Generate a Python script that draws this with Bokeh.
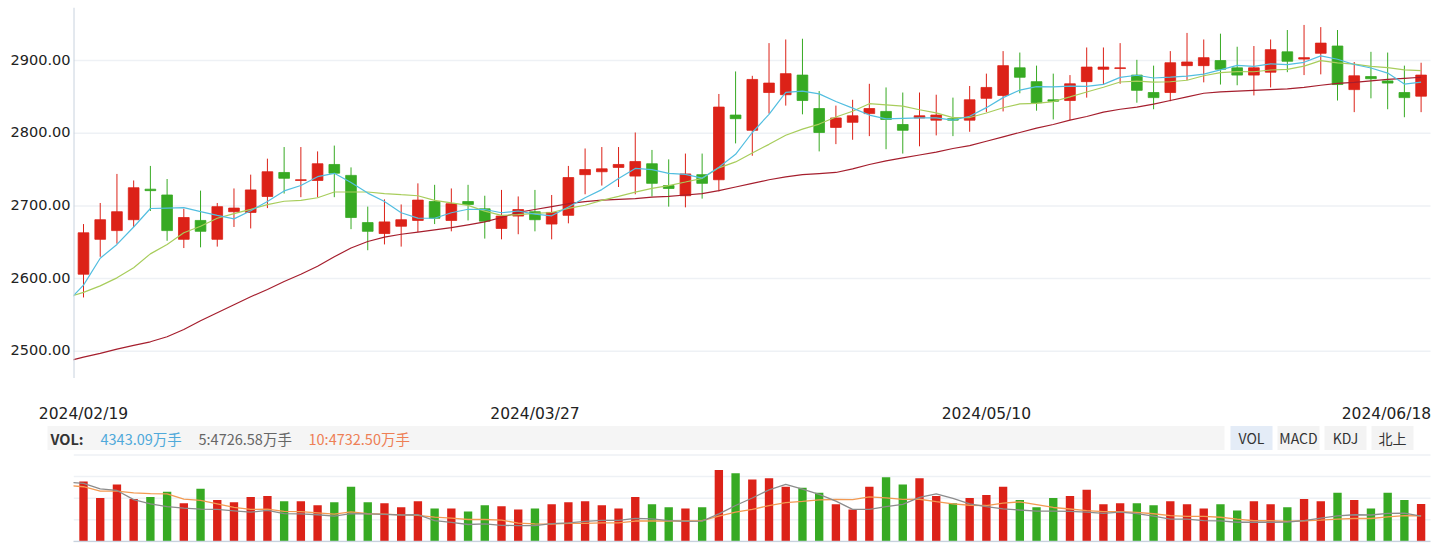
import numpy as np
from bokeh.plotting import figure
from bokeh.layouts import column
from bokeh.models import Range1d
from bokeh.core.properties import value
from bokeh.embed import file_html
from bokeh.resources import INLINE

# ---------------- data ----------------
dates = [
    "2024/02/19", "2024/02/20", "2024/02/21", "2024/02/22", "2024/02/23", "2024/02/26", "2024/02/27", "2024/02/28", "2024/02/29",
    "2024/03/01", "2024/03/04", "2024/03/05", "2024/03/06", "2024/03/07", "2024/03/08", "2024/03/11", "2024/03/12", "2024/03/13",
    "2024/03/14", "2024/03/15", "2024/03/18", "2024/03/19", "2024/03/20", "2024/03/21", "2024/03/22", "2024/03/25", "2024/03/26",
    "2024/03/27", "2024/03/28", "2024/03/29",
    "2024/04/01", "2024/04/02", "2024/04/03", "2024/04/08", "2024/04/09", "2024/04/10", "2024/04/11", "2024/04/12", "2024/04/15",
    "2024/04/16", "2024/04/17", "2024/04/18", "2024/04/19", "2024/04/22", "2024/04/23", "2024/04/24", "2024/04/25", "2024/04/26",
    "2024/04/29", "2024/04/30",
    "2024/05/06", "2024/05/07", "2024/05/08", "2024/05/09", "2024/05/10", "2024/05/13", "2024/05/14", "2024/05/15", "2024/05/16",
    "2024/05/17", "2024/05/20", "2024/05/21", "2024/05/22", "2024/05/23", "2024/05/24", "2024/05/27", "2024/05/28", "2024/05/29",
    "2024/05/30", "2024/05/31",
    "2024/06/03", "2024/06/04", "2024/06/05", "2024/06/06", "2024/06/07", "2024/06/11", "2024/06/12", "2024/06/13", "2024/06/14",
    "2024/06/17", "2024/06/18",
]
opens = [2606, 2654, 2666, 2681, 2723, 2715, 2654, 2680, 2654, 2692,
         2691, 2713, 2746, 2735, 2735, 2757, 2742, 2677, 2662, 2672,
         2680, 2706, 2680, 2706, 2696, 2669, 2686, 2692, 2675, 2687,
         2743, 2747, 2753, 2741, 2758, 2728, 2714, 2743, 2736, 2825,
         2804, 2856, 2853, 2880, 2834, 2808, 2815, 2827, 2830, 2812,
         2821, 2818, 2820, 2818, 2848, 2852, 2890, 2871, 2846, 2845,
         2871, 2888, 2889, 2880, 2856, 2856, 2893, 2893, 2900, 2890,
         2880, 2884, 2912, 2902, 2910, 2920, 2860, 2878, 2872, 2856,
         2851]
highs = [2675, 2704, 2744, 2735, 2755, 2737, 2696, 2721, 2704, 2724,
         2743, 2765, 2781, 2781, 2775, 2783, 2753, 2699, 2709, 2702,
         2731, 2729, 2724, 2729, 2714, 2722, 2713, 2722, 2715, 2755,
         2779, 2781, 2781, 2801, 2777, 2764, 2772, 2772, 2854, 2885,
         2879, 2924, 2929, 2930, 2858, 2838, 2846, 2868, 2863, 2856,
         2856, 2853, 2849, 2865, 2882, 2913, 2911, 2893, 2882, 2880,
         2918, 2918, 2924, 2901, 2893, 2913, 2938, 2929, 2937, 2919,
         2920, 2929, 2942, 2949, 2946, 2942, 2898, 2912, 2911, 2893,
         2897]
lows = [2574, 2630, 2648, 2671, 2693, 2652, 2642, 2643, 2644, 2671,
        2669, 2697, 2717, 2712, 2712, 2712, 2668, 2639, 2647, 2644,
        2664, 2675, 2665, 2680, 2655, 2654, 2661, 2665, 2654, 2676,
        2716, 2728, 2726, 2716, 2713, 2699, 2698, 2710, 2720, 2786,
        2769, 2827, 2838, 2826, 2775, 2785, 2791, 2796, 2778, 2772,
        2782, 2797, 2796, 2802, 2829, 2830, 2855, 2831, 2819, 2818,
        2849, 2867, 2868, 2842, 2833, 2844, 2873, 2870, 2867, 2866,
        2852, 2863, 2884, 2880, 2881, 2845, 2829, 2848, 2833, 2822,
        2829]
closes = [2663, 2681, 2692, 2725, 2721, 2666, 2684, 2665, 2699, 2697,
          2722, 2747, 2738, 2736, 2758, 2745, 2684, 2665, 2678, 2681,
          2708, 2683, 2703, 2702, 2679, 2686, 2695, 2681, 2691, 2739,
          2750, 2751, 2757, 2761, 2731, 2724, 2744, 2731, 2836, 2820,
          2874, 2869, 2882, 2845, 2801, 2821, 2824, 2834, 2819, 2804,
          2824, 2825, 2818, 2846, 2863, 2893, 2877, 2842, 2844, 2868,
          2891, 2891, 2890, 2859, 2849, 2897, 2898, 2904, 2888, 2880,
          2890, 2915, 2899, 2904, 2924, 2867, 2879, 2875, 2869, 2849,
          2880]
# volume in 万手
volumes = [6932, 5020, 6574, 4900, 5139, 5737, 4422, 6096, 4781, 4542,
           5139, 5259, 4661, 4661, 4183, 4542, 6335, 4542, 4422, 3944,
           4661, 3825, 3825, 3466, 4183, 4064, 3705, 3825, 4303, 4542,
           4661, 4183, 3825, 5139, 4303, 3944, 3825, 3944, 8247, 7888,
           7171, 7291, 6335, 6215, 5617, 4303, 3705, 6335, 7410, 6574,
           7291, 5259, 4422, 5020, 5378, 6335, 4781, 3944, 5020, 5259,
           5976, 4303, 4422, 4422, 4183, 4661, 4303, 3825, 4303, 3586,
           4661, 4303, 3944, 4900, 4661, 5617, 4781, 3825, 5617, 4781,
           4343]

# moving-average series: first value belongs to the previous trading day
prev_date = "2024/02/08"
ma5 = [2567, 2591, 2628, 2647, 2671, 2696.4, 2697.0, 2697.6, 2692.2, 2687.0, 2682.2,
       2693.4, 2706.0, 2720.6, 2728.0, 2740.2, 2744.8, 2732.2, 2717.6, 2706.0, 2690.6,
       2683.2, 2683.0, 2690.6, 2695.4, 2695.0, 2690.6, 2693.0, 2688.6, 2686.4, 2698.4,
       2711.2, 2722.4, 2737.6, 2751.6, 2750.0, 2744.8, 2743.4, 2738.2, 2753.2, 2771.0,
       2801.0, 2826.0, 2856.2, 2858.0, 2854.2, 2843.6, 2834.6, 2825.0, 2819.8, 2820.4,
       2821.0, 2821.2, 2818.0, 2823.4, 2835.2, 2849.0, 2859.4, 2864.2, 2863.8, 2864.8,
       2864.4, 2867.2, 2876.8, 2879.8, 2876.0, 2877.2, 2878.6, 2881.4, 2887.2, 2893.4,
       2892.0, 2895.4, 2894.4, 2897.6, 2906.4, 2901.8, 2894.6, 2889.8, 2882.8, 2867.6,
       2870.2]
ma10 = [2574, 2581, 2590, 2601, 2615, 2634, 2647, 2663, 2672, 2683, 2689.3,
        2695.2, 2701.8, 2706.4, 2707.5, 2711.2, 2719.1, 2719.1, 2719.1, 2717.0, 2715.4,
        2714.0, 2707.6, 2704.1, 2700.7, 2692.8, 2686.9, 2688.0, 2689.6, 2690.9, 2696.7,
        2700.9, 2707.7, 2713.1, 2719.0, 2724.2, 2728.0, 2732.9, 2737.9, 2752.4, 2760.5,
        2772.9, 2784.7, 2797.2, 2805.6, 2812.6, 2822.3, 2830.3, 2840.6, 2838.9, 2837.3,
        2832.3, 2827.9, 2821.5, 2821.6, 2827.8, 2835.0, 2840.3, 2841.1, 2843.6, 2850.0,
        2856.7, 2863.3, 2870.5, 2871.8, 2870.4, 2870.8, 2872.9, 2879.1, 2883.5, 2884.7,
        2884.6, 2887.0, 2887.9, 2892.4, 2899.9, 2896.9, 2895.0, 2892.1, 2890.2, 2887.1,
        2886.1]
ma60 = [2486, 2492, 2497, 2503, 2508, 2513, 2520, 2530, 2542, 2553, 2564,
        2575, 2585, 2596, 2606, 2617, 2630, 2642, 2651, 2657, 2661,
        2664, 2667, 2670, 2674, 2678, 2684, 2691, 2695, 2699, 2703,
        2706, 2708, 2709, 2710, 2712, 2713, 2715, 2717, 2721, 2726,
        2731, 2736, 2740, 2743, 2744.5, 2746, 2751, 2757, 2762, 2766,
        2770, 2774, 2779, 2783, 2789, 2795, 2801, 2807, 2812, 2818,
        2823, 2829, 2833, 2836, 2840, 2845, 2850, 2855, 2857, 2858,
        2859, 2860, 2861, 2863, 2866, 2868.5, 2870, 2872, 2874, 2875.5,
        2877]
vol_ma5 = [7575, 7470, 7000, 6860, 6070, 5713, 5474, 5354, 5259, 5235, 5116,
           4996, 5163, 4876, 4852, 4781, 4661, 4876, 4853, 4805, 4757,
           4781, 4279, 4135, 3944, 3992, 3873, 3849, 3849, 4016, 4088,
           4207, 4303, 4303, 4470, 4422, 4279, 4207, 4231, 4853, 5570,
           6215, 6908, 7386, 6980, 6526, 5952, 5235, 5235, 5474, 5665,
           6263, 6574, 6191, 5713, 5474, 5283, 5187, 5092, 5092, 5068,
           4996, 4900, 4996, 4876, 4661, 4398, 4398, 4279, 4255, 4136,
           4136, 4136, 4159, 4279, 4494, 4685, 4781, 4757, 4900, 4924,
           4669]
vol_ma10 = [7290, 7178, 6797, 6797, 6651, 6592, 6563, 6123, 6006, 5713, 5414,
            5235, 5259, 5068, 5044, 4948, 4829, 5020, 4865, 4829, 4769,
            4721, 4578, 4494, 4375, 4375, 4327, 4064, 3992, 3980, 4040,
            4040, 4076, 4076, 4243, 4255, 4243, 4255, 4267, 4661, 4996,
            5247, 5558, 5809, 5916, 6048, 6084, 6072, 6311, 6227, 6096,
            6108, 5904, 5713, 5594, 5570, 5773, 5881, 5641, 5402, 5271,
            5139, 5044, 5044, 4984, 4865, 4697, 4649, 4637, 4566, 4398,
            4267, 4267, 4219, 4267, 4315, 4410, 4458, 4458, 4590, 4709,
            4677]

price_ticks = [2500, 2600, 2700, 2800, 2900]
date_ticks = ["2024/02/19", "2024/03/27", "2024/05/10", "2024/06/18"]
vol_grid = [2500, 5000, 7500, 10000]
vol_legend = ["VOL:", "4343.09万手", "5:4726.58万手", "10:4732.50万手"]
buttons = ["VOL", "MACD", "KDJ", "北上"]

# ---------------- style / layout ----------------
W = 1438
STEP = 16.72          # px per trading day
X0 = 83               # px of first candle
PLOT_L, PLOT_R = 73, 1430   # plotting area (px)
RED, GREEN = "#DC2218", "#37AA23"
C_MA5, C_MA10, C_MA60 = "#52BEE0", "#A8CD5C", "#A51E2D"
C_VMA5, C_VMA10 = "#8C8C8C", "#F39A52"
GRID = "#EEF1F5"
AXIS = "#C8D2DE"
TXT = "#222222"

n = len(dates)
idx = np.arange(n)
ma_x = np.arange(-1, n)
o = np.array(opens, float); c = np.array(closes, float)
colors = [RED if cc >= oo else GREEN for oo, cc in zip(o, c)]
body_top = np.maximum(o, c)
body_bot = np.minimum(o, c)

# every figure uses the full window width as its frame
xs = -X0 / STEP
xe = xs + W / STEP


def base_fig(height, y_range, top=0, bottom=0):
    f = figure(width=W, height=height, x_range=Range1d(xs, xe), y_range=y_range,
               output_backend="svg", toolbar_location=None,
               x_axis_location=None, y_axis_location=None,
               min_border_left=0, min_border_right=0,
               min_border_top=top, min_border_bottom=bottom)
    f.extra_x_ranges = {"px": Range1d(0, W)}
    f.outline_line_color = None
    f.xgrid.visible = False
    f.ygrid.visible = False
    f.background_fill_color = "white"
    f.border_fill_color = "white"
    return f


# ---------------- main price chart ----------------
P_LO, P_HI = 2462.5, 2973
p1 = base_fig(378, Range1d(P_LO, P_HI), top=7)
p1.segment(x0=[PLOT_L] * len(price_ticks), x1=[PLOT_R] * len(price_ticks),
           y0=price_ticks, y1=price_ticks, x_range_name="px",
           line_color=GRID, line_width=1.5)
p1.segment(x0=idx, y0=lows, x1=idx, y1=highs, line_color=colors, line_width=1)
p1.vbar(x=idx, width=0.64, top=body_top, bottom=body_bot, fill_color=colors,
        line_color=colors, line_width=0.8)
p1.line(ma_x, ma60, line_color=C_MA60, line_width=1.2)
p1.line(ma_x, ma10, line_color=C_MA10, line_width=1.2)
p1.line(ma_x, ma5, line_color=C_MA5, line_width=1.2)
# left margin (axis area)
p1.quad(left=[0], right=[PLOT_L], bottom=[P_LO], top=[P_HI], x_range_name="px",
        fill_color="white", line_color=None)
p1.segment(x0=[PLOT_L + 0.5], x1=[PLOT_L + 0.5], y0=[P_LO], y1=[P_HI], x_range_name="px",
           line_color=AXIS, line_width=1)
p1.text(x=[PLOT_L - 3] * len(price_ticks), y=price_ticks, text=[f"{t:.2f}" for t in price_ticks],
        x_range_name="px", text_align="right", text_baseline="middle", y_offset=-1,
        text_font=value("DejaVu Sans"), text_font_size="14.5px", text_color=TXT)

# ---------------- strip: dates + VOL legend bar ----------------
p2 = base_fig(75, Range1d(453, 378))
tick_pos = [dates.index(d) for d in date_ticks]
p2.text(x=tick_pos[:-1], y=[413.5] * (len(tick_pos) - 1), text=date_ticks[:-1],
        text_align="center", text_baseline="middle",
        text_font=value("DejaVu Sans"), text_font_size="15.5px", text_color=TXT)
p2.text(x=tick_pos[-1:], y=[413.5], text=date_ticks[-1:], x_offset=10,
        text_align="right", text_baseline="middle",
        text_font=value("DejaVu Sans"), text_font_size="15.5px", text_color=TXT)

p2.quad(left=[47], right=[1224], top=[449.5], bottom=[425.5], x_range_name="px",
        fill_color="#F5F5F5", line_color=None)
btn_left = [1230, 1277, 1324, 1371]
btn_fill = ["#E4ECF7", "#F3F3F3", "#F3F3F3", "#F3F3F3"]
p2.quad(left=btn_left, right=[b + 42 for b in btn_left], top=[449.5] * 4, bottom=[425.5] * 4,
        x_range_name="px", fill_color=btn_fill, line_color=None)
p2.text(x=[b + 21 for b in btn_left], y=[437.5] * 4, text=buttons, x_range_name="px",
        text_align="center", text_baseline="middle",
        text_font=value("Noto Sans CJK SC"), text_font_size="14px", text_color="#333333")
leg_x = [50, 100, 198, 308]
leg_col = ["#333333", "#4FA9DA", "#666666", "#EE7F55"]
leg_style = ["bold", "normal", "normal", "normal"]
for tx, lx, lc, ls in zip(vol_legend, leg_x, leg_col, leg_style):
    p2.text(x=[lx], y=[437.5], text=[tx], x_range_name="px", text_align="left",
            text_baseline="middle", text_font=value("Noto Sans CJK SC"),
            text_font_size="14.5px", text_color=lc, text_font_style=ls)

# ---------------- volume chart ----------------
PXV = 115.5      # 万手 per px (bars)
PXM = 85.6       # 万手 per px (MA lines, own scale)
MBASE = 2490
frame_h = 89
V_LO, V_HI = -PXV, PXV * (frame_h - 1)
p3 = base_fig(90, Range1d(V_LO, V_HI), bottom=1)
p3.extra_y_ranges = {"ma": Range1d(MBASE - PXM, MBASE + PXM * (frame_h - 1))}
p3.segment(x0=[PLOT_L] * len(vol_grid), x1=[PLOT_R] * len(vol_grid), y0=vol_grid, y1=vol_grid,
           x_range_name="px", line_color=GRID, line_width=1.5)
p3.vbar(x=idx, width=0.5, top=volumes, bottom=0, fill_color=colors, line_color=None)
p3.line(ma_x, vol_ma10, y_range_name="ma", line_color=C_VMA10, line_width=1.3)
p3.line(ma_x, vol_ma5, y_range_name="ma", line_color=C_VMA5, line_width=1.3)
p3.quad(left=[0], right=[PLOT_L], bottom=[V_LO], top=[V_HI], x_range_name="px",
        fill_color="white", line_color=None)
p3.segment(x0=[PLOT_L], x1=[PLOT_R], y0=[0], y1=[0], x_range_name="px",
           line_color=AXIS, line_width=1.5)

layout = column(p1, p2, p3, spacing=0)
open("out.html", "w").write(file_html(layout, INLINE, title="K线图"))
